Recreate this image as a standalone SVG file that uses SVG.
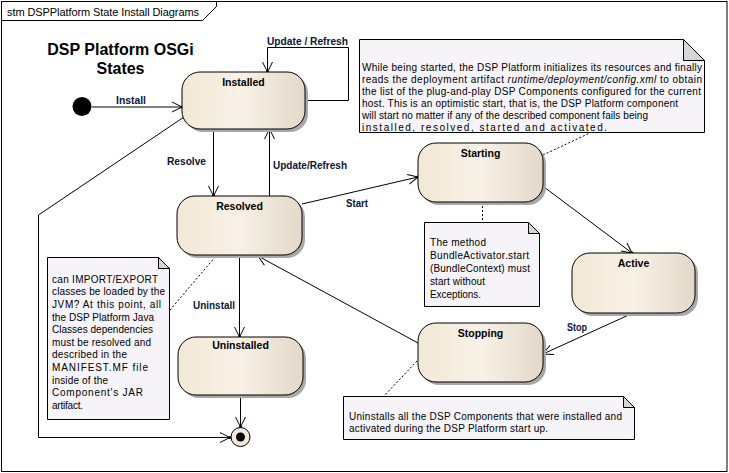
<svg xmlns="http://www.w3.org/2000/svg" width="729" height="473" viewBox="0 0 729 473">
<style>
text{font-family:"Liberation Sans",Arial,sans-serif;}
.frame{fill:none;stroke:#000;stroke-width:1}
.state{fill:url(#sg);stroke:#000;stroke-width:1}
.shadow{fill:#a8a8a8}
.sname{font-size:10.5px;font-weight:bold;fill:#000;text-anchor:middle}
.lbl{font-size:10.5px;font-weight:bold;fill:#0a1438}
.conn{fill:none;stroke:#000;stroke-width:1}
.dash{fill:none;stroke:#000;stroke-width:1;stroke-dasharray:2,2}
.note{fill:#f6f4f8;stroke:#000;stroke-width:1}
.ear{fill:#d6d6d6;stroke:#000;stroke-width:1}
.nt{font-size:10px;fill:#000}
</style>
<defs>
<linearGradient id="sg" x1="0" y1="0" x2="1" y2="0">
<stop offset="0" stop-color="#f2e8d6"/>
<stop offset="0.5" stop-color="#f8f1e6"/>
<stop offset="1" stop-color="#e3d9ca"/>
</linearGradient>
<marker id="arr" markerUnits="userSpaceOnUse" markerWidth="14" markerHeight="14" refX="11" refY="7" orient="auto">
<path d="M1,2 L11,7 L1,12" fill="none" stroke="#000" stroke-width="1"/>
<circle cx="11" cy="7" r="1.5" fill="#000"/>
</marker>
</defs>
<rect x="0" y="0" width="729" height="473" fill="#fff"/>
<g id="frame">
<rect class="frame" x="1.5" y="1.5" width="725.5" height="470"/>
<polyline class="frame" points="1.5,20.5 202.5,20.5 216.5,6.5 216.5,1.5"/>
<text x="7" y="15.5" font-size="11" textLength="192" lengthAdjust="spacing">stm DSPPlatform State Install Diagrams</text>
</g>
<g id="title">
<text x="120.5" y="55" font-size="16" font-weight="bold" text-anchor="middle">DSP Platform OSGi</text>
<text x="120.5" y="73.5" font-size="16" font-weight="bold" text-anchor="middle">States</text>
</g>
<g id="connectors">
<path class="conn" d="M92,107 L182,107" marker-end="url(#arr)"/>
<path class="conn" d="M305,100.5 L348.5,100.5 L348.5,47.5 L267.5,47.5 L267.5,72" marker-end="url(#arr)"/>
<path class="conn" d="M213.5,129 L213.5,196" marker-end="url(#arr)"/>
<path class="conn" d="M269.5,196 L269.5,129" marker-end="url(#arr)"/>
<path class="conn" d="M302,204 L418,177" marker-end="url(#arr)"/>
<path class="conn" d="M544,187 L632,253" marker-end="url(#arr)"/>
<path class="conn" d="M633,313 L543,354" marker-end="url(#arr)"/>
<path class="conn" d="M418,343 L258,256" marker-end="url(#arr)"/>
<path class="conn" d="M239.5,255 L239.5,337" marker-end="url(#arr)"/>
<path class="conn" d="M240.5,395 L240.5,427" marker-end="url(#arr)"/>
<path class="conn" d="M184,117 L38.5,215 L38.5,437.5 L230,437.5" marker-end="url(#arr)"/>
<path class="dash" d="M543,155 L592,132"/>
<path class="dash" d="M482.5,202 L482.5,222"/>
<path class="dash" d="M170,310 L216,256"/>
<path class="dash" d="M417,361 L384,396"/>
<text class="lbl" x="116" y="104" textLength="30" lengthAdjust="spacingAndGlyphs">Install</text>
<text class="lbl" x="267" y="45" textLength="81" lengthAdjust="spacingAndGlyphs">Update / Refresh</text>
<text class="lbl" x="167" y="165" textLength="39" lengthAdjust="spacingAndGlyphs">Resolve</text>
<text class="lbl" x="273" y="169" textLength="74" lengthAdjust="spacingAndGlyphs">Update/Refresh</text>
<text class="lbl" x="346" y="207" textLength="22" lengthAdjust="spacingAndGlyphs">Start</text>
<text class="lbl" x="567" y="331" textLength="20" lengthAdjust="spacingAndGlyphs">Stop</text>
<text class="lbl" x="193" y="309" textLength="42" lengthAdjust="spacingAndGlyphs">Uninstall</text>
</g>
<g id="initial">
<circle cx="82" cy="106.5" r="9.5" fill="#000"/>
</g>
<g id="final">
<circle cx="240.5" cy="437" r="9.5" fill="#f3ead9" stroke="#000" stroke-width="1"/>
<circle cx="240.5" cy="437" r="4.5" fill="#000"/>
</g>
<g id="installed">
<rect class="shadow" x="185" y="75" width="123" height="57" rx="18"/>
<rect class="state" x="182" y="72" width="123" height="57" rx="18"/>
<text class="sname" x="243.5" y="86">Installed</text>
</g>
<g id="resolved">
<rect class="shadow" x="180" y="199" width="125" height="59" rx="18"/>
<rect class="state" x="177" y="196" width="125" height="59" rx="18"/>
<text class="sname" x="239.5" y="209.5">Resolved</text>
</g>
<g id="starting">
<rect class="shadow" x="421" y="146" width="125" height="59" rx="18"/>
<rect class="state" x="418" y="143" width="125" height="59" rx="18"/>
<text class="sname" x="480.5" y="157">Starting</text>
</g>
<g id="active">
<rect class="shadow" x="575" y="256" width="123" height="60" rx="18"/>
<rect class="state" x="572" y="253" width="123" height="60" rx="18"/>
<text class="sname" x="633.5" y="267">Active</text>
</g>
<g id="stopping">
<rect class="shadow" x="421" y="326" width="125" height="59" rx="18"/>
<rect class="state" x="418" y="323" width="125" height="59" rx="18"/>
<text class="sname" x="480.5" y="337">Stopping</text>
</g>
<g id="uninstalled">
<rect class="shadow" x="181" y="340" width="125" height="58" rx="18"/>
<rect class="state" x="178" y="337" width="125" height="58" rx="18"/>
<text class="sname" x="240.5" y="349">Uninstalled</text>
</g>
<g id="note-start">
<path class="note" d="M359.5,39.5 L683.5,39.5 L704.5,60.5 L704.5,132.5 L359.5,132.5 Z"/>
<path class="ear" d="M683.5,39.5 L683.5,60.5 L704.5,60.5 Z"/>
<text class="nt" x="362" y="70.5" textLength="340" lengthAdjust="spacing">While being started, the DSP Platform initializes its resources and finally</text>
<text class="nt" x="362" y="82.5" textLength="340" lengthAdjust="spacing">reads the deployment artifact <tspan font-style="italic">runtime/deployment/config.xml</tspan> to obtain</text>
<text class="nt" x="362" y="94.5" textLength="339" lengthAdjust="spacing">the list of the plug-and-play DSP Components configured for the current</text>
<text class="nt" x="362" y="106.5" textLength="316" lengthAdjust="spacing">host. This is an optimistic start, that is, the DSP Platform component</text>
<text class="nt" x="362" y="118.5" textLength="286" lengthAdjust="spacing">will start no matter if any of the described component fails being</text>
<text class="nt" x="362" y="130.5" textLength="245" lengthAdjust="spacing">installed, resolved, started and activated.</text>
</g>
<g id="note-bundle">
<path class="note" d="M424.5,222.5 L528.5,222.5 L539.5,233.5 L539.5,306.5 L424.5,306.5 Z"/>
<path class="ear" d="M528.5,222.5 L528.5,233.5 L539.5,233.5 Z"/>
<text class="nt" x="430" y="246" textLength="56" lengthAdjust="spacing">The method</text>
<text class="nt" x="430" y="259" textLength="99" lengthAdjust="spacing">BundleActivator.start</text>
<text class="nt" x="430" y="272" textLength="100" lengthAdjust="spacing">(BundleContext) must</text>
<text class="nt" x="430" y="285" textLength="55" lengthAdjust="spacing">start without</text>
<text class="nt" x="430" y="298" textLength="51" lengthAdjust="spacing">Exceptions.</text>
</g>
<g id="note-import">
<path class="note" d="M47.5,257.5 L158.5,257.5 L169.5,268.5 L169.5,419.5 L47.5,419.5 Z"/>
<path class="ear" d="M158.5,257.5 L158.5,268.5 L169.5,268.5 Z"/>
<text class="nt" x="52" y="282.5" textLength="106" lengthAdjust="spacing">can IMPORT/EXPORT</text>
<text class="nt" x="52" y="295.2" textLength="113" lengthAdjust="spacing">classes be loaded by the</text>
<text class="nt" x="52" y="307.8" textLength="109" lengthAdjust="spacing">JVM? At this point, all</text>
<text class="nt" x="52" y="320.5" textLength="102" lengthAdjust="spacing">the DSP Platform Java</text>
<text class="nt" x="52" y="333.1" textLength="101" lengthAdjust="spacing">Classes dependencies</text>
<text class="nt" x="52" y="345.8" textLength="99" lengthAdjust="spacing">must be resolved and</text>
<text class="nt" x="52" y="358.4" textLength="75" lengthAdjust="spacing">described in the</text>
<text class="nt" x="52" y="371.1" textLength="96" lengthAdjust="spacing">MANIFEST.MF file</text>
<text class="nt" x="52" y="383.7" textLength="56" lengthAdjust="spacing">inside of the</text>
<text class="nt" x="52" y="396.4" textLength="91" lengthAdjust="spacing">Component's JAR</text>
<text class="nt" x="52" y="409" textLength="31" lengthAdjust="spacing">artifact.</text>
</g>
<g id="note-stop">
<path class="note" d="M343.5,396.5 L623.5,396.5 L634.5,407.5 L634.5,439.5 L343.5,439.5 Z"/>
<path class="ear" d="M623.5,396.5 L623.5,407.5 L634.5,407.5 Z"/>
<text class="nt" x="349" y="419.5" textLength="273" lengthAdjust="spacing">Uninstalls all the DSP Components that were installed and</text>
<text class="nt" x="349" y="432" textLength="199" lengthAdjust="spacing">activated during the DSP Platform start up.</text>
</g>
</svg>
